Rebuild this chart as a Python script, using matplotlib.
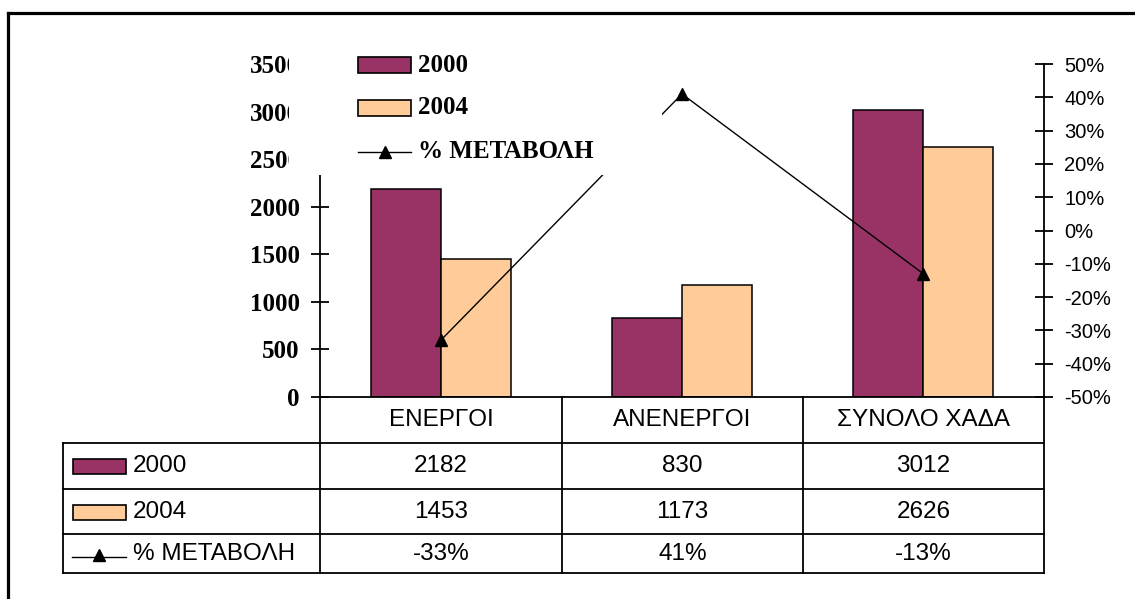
import numpy as np
import matplotlib.pyplot as plt
from matplotlib.patches import Rectangle
from matplotlib.lines import Line2D
from matplotlib.transforms import Affine2D
from matplotlib.ticker import FuncFormatter

categories = ['ΕΝΕΡΓΟΙ', 'ΑΝΕΝΕΡΓΟΙ', 'ΣΥΝΟΛΟ ΧΑΔΑ']
values_2000 = [2182, 830, 3012]
values_2004 = [1453, 1173, 2626]
pct_change = [-33, 41, -13]
series_labels = ['2000', '2004', '% ΜΕΤΑΒΟΛΗ']
left_ticks = [0, 500, 1000, 1500, 2000, 2500, 3000, 3500]
right_ticks = [-50, -40, -30, -20, -10, 0, 10, 20, 30, 40, 50]

C2000 = '#993366'
C2004 = '#FFCC99'
SERIF = 'Liberation Serif'
SANS = 'Liberation Sans'
TABLE_FS = 17.5

W, H = 1135, 599
fig = plt.figure(figsize=(W / 100, H / 100), dpi=100)
# pixel coordinates measured from the top-left corner
px = Affine2D().scale(1 / W, -1 / H).translate(0, 1) + fig.transFigure

left, right, bottom, top = 320, 1044, 397, 64
ax = fig.add_axes([left / W, 1 - bottom / H, (right - left) / W, (bottom - top) / H])
ax2 = ax.twinx()

x = np.arange(len(categories))
w = 0.29
ax.bar(x - w / 2, values_2000, w, color=C2000, edgecolor='black', linewidth=1.1)
ax.bar(x + w / 2, values_2004, w, color=C2004, edgecolor='black', linewidth=1.1)
ax.set_xlim(-0.5, 2.5)
ax.set_ylim(0, 3500)
ax.set_yticks(left_ticks)
ax.set_xticks([])
ax.tick_params(axis='y', direction='inout', length=13, width=1.3, pad=8,
               labelsize=18)
for lab in ax.get_yticklabels():
    lab.set_fontfamily(SERIF)
    lab.set_fontweight('bold')

ax2.plot(x, pct_change, color='black', linewidth=1.0, marker='^',
         markersize=9, markerfacecolor='black', markeredgecolor='black')
ax2.set_ylim(-50, 50)
ax2.set_yticks(right_ticks)
ax2.yaxis.set_major_formatter(FuncFormatter(lambda v, p: f'{v:.0f}%'))
ax2.tick_params(axis='y', direction='inout', length=13, width=1.3, pad=8,
                labelsize=14.5)
for lab in ax2.get_yticklabels():
    lab.set_fontfamily(SANS)

for a in (ax, ax2):
    a.spines['top'].set_visible(False)
    for s in a.spines.values():
        s.set_linewidth(1.3)
ax.spines['right'].set_visible(False)
ax2.spines['left'].set_visible(False)
ax2.spines['bottom'].set_visible(False)

# legend panel sits over the top-left part of the plot
fig.add_artist(Rectangle((289, 40), 373, 135, transform=px, facecolor='white',
                         edgecolor='none', zorder=3))
leg_y = [65, 108, 152]
fig.add_artist(Rectangle((358, leg_y[0] - 8), 53, 16, transform=px,
                         facecolor=C2000, edgecolor='black', lw=1.2, zorder=4))
fig.add_artist(Rectangle((358, leg_y[1] - 8), 53, 16, transform=px,
                         facecolor=C2004, edgecolor='black', lw=1.2, zorder=4))
fig.add_artist(Line2D([358, 411], [leg_y[2], leg_y[2]], transform=px,
                      color='black', lw=1.0, zorder=4))
fig.add_artist(Line2D([384.5], [leg_y[2]], transform=px, color='black',
                      marker='^', markersize=9, linestyle='none', zorder=4))
for yy, lab in zip(leg_y, series_labels):
    fig.text(418 / W, 1 - yy / H, lab, fontsize=18, fontfamily=SERIF,
             fontweight='bold', va='center', ha='left', zorder=4)

# data table below the chart
lw = 1.3
col_x = [320, 562, 803, 1044]
row_y = [397, 443, 489, 534, 573]
for yy in row_y[1:]:
    fig.add_artist(Line2D([63, 1044], [yy, yy], transform=px, color='black', lw=lw))
fig.add_artist(Line2D([63, 63], [443, 573], transform=px, color='black', lw=lw))
for xx in col_x:
    fig.add_artist(Line2D([xx, xx], [397, 573], transform=px, color='black', lw=lw))

centers = [(col_x[i] + col_x[i + 1]) / 2 for i in range(3)]
row_mid = [(row_y[i] + row_y[i + 1]) / 2 for i in range(4)]
for cx, cat in zip(centers, categories):
    fig.text(cx / W, 1 - row_mid[0] / H, cat, fontsize=TABLE_FS, fontfamily=SANS,
             ha='center', va='center')
rows = [[str(v) for v in values_2000],
        [str(v) for v in values_2004],
        [f'{v}%' for v in pct_change]]
for r, vals in enumerate(rows):
    for cx, txt in zip(centers, vals):
        fig.text(cx / W, 1 - row_mid[r + 1] / H, txt, fontsize=TABLE_FS,
                 fontfamily=SANS, ha='center', va='center')

# row keys
fig.add_artist(Rectangle((73, row_mid[1] - 7), 53, 15, transform=px,
                         facecolor=C2000, edgecolor='black', lw=1.2))
fig.add_artist(Rectangle((73, row_mid[2] - 7), 53, 15, transform=px,
                         facecolor=C2004, edgecolor='black', lw=1.2))
fig.add_artist(Line2D([72, 126], [row_mid[3] + 3, row_mid[3] + 3], transform=px,
                      color='black', lw=1.0))
fig.add_artist(Line2D([99], [row_mid[3] + 1], transform=px, color='black',
                      marker='^', markersize=8, linestyle='none'))
for r, lab in enumerate(series_labels):
    fig.text(133 / W, 1 - row_mid[r + 1] / H, lab, fontsize=TABLE_FS,
             fontfamily=SANS, ha='left', va='center')

# outer frame (top and left edges)
fig.add_artist(Line2D([8, W], [13, 13], transform=px, color='black', lw=2.3))
fig.add_artist(Line2D([8, 8], [13, H], transform=px, color='black', lw=2.3))

fig.savefig('out.png', dpi=100)
